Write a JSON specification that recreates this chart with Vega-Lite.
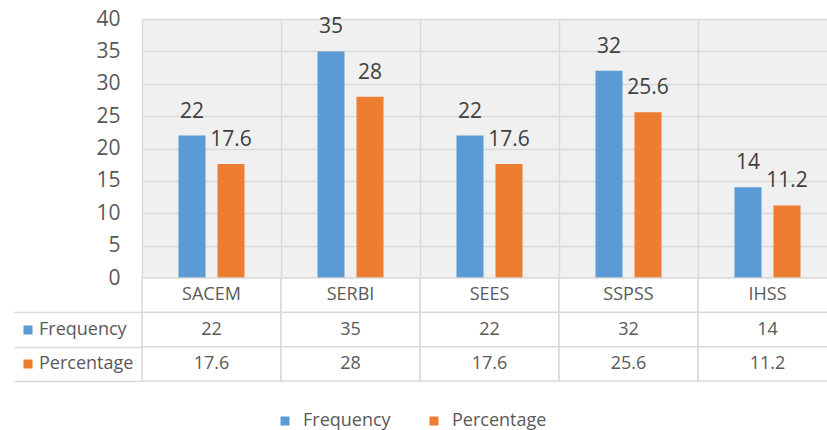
{
  "$schema": "https://vega.github.io/schema/vega-lite/v6.json",
  "background": "white",
  "padding": {"left": 13, "top": 8, "right": 0, "bottom": 0},
  "autosize": {"type": "pad"},
  "config": {
    "font": "Open Sans",
    "view": {"stroke": null},
    "concat": {"spacing": 0}
  },
  "datasets": {
    "main": [
      {"category": "SACEM", "series": "Frequency", "value": 22},
      {"category": "SACEM", "series": "Percentage", "value": 17.6},
      {"category": "SERBI", "series": "Frequency", "value": 35},
      {"category": "SERBI", "series": "Percentage", "value": 28},
      {"category": "SEES", "series": "Frequency", "value": 22},
      {"category": "SEES", "series": "Percentage", "value": 17.6},
      {"category": "SSPSS", "series": "Frequency", "value": 32},
      {"category": "SSPSS", "series": "Percentage", "value": 25.6},
      {"category": "IHSS", "series": "Frequency", "value": 14},
      {"category": "IHSS", "series": "Percentage", "value": 11.2}
    ]
  },
  "spacing": 0,
  "bounds": "flush",
  "resolve": {
    "scale": {"color": "shared", "fill": "independent"},
    "legend": {"color": "shared", "fill": "independent"}
  },
  "vconcat": [
    {
      "width": 695,
      "height": 259,
      "view": {"fill": "#f0f0f0", "stroke": null},
      "data": {"name": "main"},
      "encoding": {
        "x": {
          "field": "category",
          "type": "nominal",
          "sort": ["SACEM", "SERBI", "SEES", "SSPSS", "IHSS"],
          "scale": {"paddingInner": 0, "paddingOuter": 0},
          "axis": {"title": null, "labels": false, "ticks": false, "domain": false, "grid": true, "bandPosition": 0, "gridColor": "#d9d9d9", "gridWidth": 1.5}
        },
        "xOffset": {
          "field": "series",
          "type": "nominal",
          "sort": ["Frequency", "Percentage"],
          "scale": {"paddingInner": 0.3077, "paddingOuter": 0.936}
        },
        "y": {
          "field": "value",
          "type": "quantitative",
          "scale": {"domain": [0, 40]},
          "axis": {
            "title": null,
            "values": [0, 5, 10, 15, 20, 25, 30, 35, 40],
            "labelFontSize": 21,
            "labelColor": "#595959",
            "labelPadding": 22,
            "ticks": false,
            "domain": false,
            "grid": true,
            "gridColor": "#d9d9d9",
            "gridWidth": 1.5,
            "minExtent": 128,
            "maxExtent": 128
          }
        }
      },
      "layer": [
        {
          "mark": {"type": "bar"},
          "encoding": {
            "color": {
              "field": "series",
              "type": "nominal",
              "sort": ["Frequency", "Percentage"],
              "scale": {"domain": ["Frequency", "Percentage"], "range": ["#5B9BD5", "#ED7D31"]},
              "legend": {
                "orient": "none",
                "legendX": 134,
                "legendY": 393,
                "direction": "horizontal",
                "title": null,
                "padding": 0,
                "symbolType": "square",
                "symbolSize": 81,
                "symbolStrokeWidth": 0,
                "labelFontSize": 18,
                "labelColor": "#595959",
                "labelOffset": 9,
                "columnPadding": 34
              }
            }
          }
        },
        {
          "mark": {"type": "text", "baseline": "alphabetic", "dy": -18, "fontSize": 21, "color": "#404040"},
          "encoding": {
            "text": {"field": "value", "type": "nominal"}
          }
        }
      ]
    },
    {
      "width": 695,
      "height": 103,
      "data": {"name": "main"},
      "encoding": {
        "x": {
          "field": "category",
          "type": "nominal",
          "sort": ["SACEM", "SERBI", "SEES", "SSPSS", "IHSS"],
          "scale": {"paddingInner": 0, "paddingOuter": 0},
          "axis": null
        },
        "y": {
          "field": "series",
          "type": "nominal",
          "scale": {"domain": ["cat", "Frequency", "Percentage"], "paddingInner": 0, "paddingOuter": 0},
          "axis": {
            "title": null,
            "values": ["Frequency", "Percentage"],
            "labels": false,
            "domain": false,
            "grid": false,
            "ticks": true,
            "tickBand": "extent",
            "tickSize": 128,
            "tickColor": "#d9d9d9",
            "tickWidth": 1.5,
            "minExtent": 128,
            "maxExtent": 128
          }
        }
      },
      "layer": [
        {"mark": {"type": "rect", "fill": "white", "stroke": "#d9d9d9", "strokeWidth": 1.5}},
        {
          "transform": [{"filter": "datum.series == 'Frequency'"}],
          "mark": {"type": "rect", "fill": "white", "stroke": "#d9d9d9", "strokeWidth": 1.5},
          "encoding": {"y": {"datum": "cat", "type": "nominal"}}
        },
        {
          "mark": {"type": "text", "fontSize": 18, "color": "#595959"},
          "encoding": {"text": {"field": "value", "type": "nominal"}}
        },
        {
          "transform": [{"filter": "datum.series == 'Frequency'"}],
          "mark": {"type": "text", "fontSize": 18, "color": "#595959"},
          "encoding": {"y": {"datum": "cat", "type": "nominal"}, "text": {"field": "category"}}
        },
        {
          "mark": {"type": "point", "opacity": 0},
          "encoding": {
            "fill": {
              "field": "series",
              "type": "nominal",
              "scale": {"domain": ["Frequency", "Percentage"], "range": ["#5B9BD5", "#ED7D31"]},
              "legend": {
                "orient": "none",
                "legendX": -123,
                "legendY": 43,
                "direction": "vertical",
                "title": null,
                "padding": 0,
                "symbolType": "square",
                "symbolSize": 81,
                "symbolOpacity": 1,
                "symbolStrokeWidth": 0,
                "labelFontSize": 18,
                "labelColor": "#595959",
                "labelOffset": 2,
                "rowPadding": 16
              }
            }
          }
        }
      ]
    }
  ]
}
